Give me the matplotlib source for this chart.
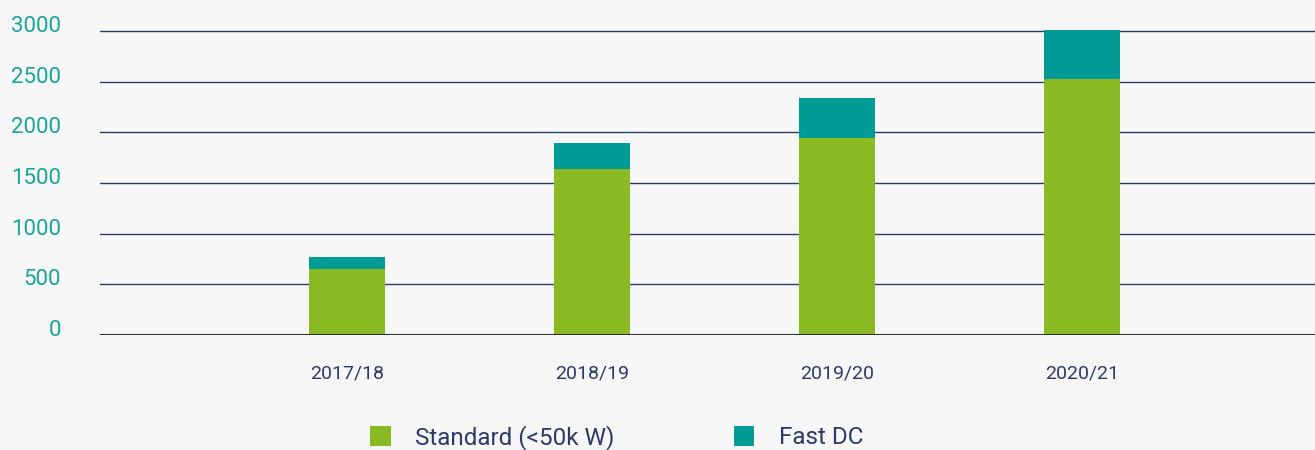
import matplotlib
matplotlib.use("Agg")
import matplotlib.pyplot as plt
import matplotlib.transforms as mtransforms
from matplotlib.patches import Patch
import numpy as np

plt.rcParams['font.family'] = ['Roboto', 'DejaVu Sans']

years = ["2017/18", "2018/19", "2019/20", "2020/21"]
standard = [655, 1635, 1940, 2530]
fast_dc = [112, 255, 395, 475]
yticks = [0, 500, 1000, 1500, 2000, 2500, 3000]

green = '#8abb25'
teal = '#009b94'
navy = '#2e3a6b'
tick_teal = '#1aa59b'
bg = '#f7f7f7'

fig = plt.figure(figsize=(13.15, 4.5), dpi=100, facecolor=bg)
ax = fig.add_axes([100/1315, 1 - 335/450, 1 - 100/1315, 304/450 * 3100/3000])
ax.set_facecolor(bg)

x = np.arange(1, len(years) + 1)
ax.bar(x, standard, width=0.31, color=green, zorder=3)
ax.bar(x, fast_dc, width=0.31, bottom=standard, color=teal, zorder=3)

ax.set_xlim(-0.01, 4.95)
ax.set_ylim(0, 3100)

ax.set_yticks(yticks)
ax.set_yticklabels([str(v) for v in yticks])
for v in yticks[1:]:
    ax.axhline(v, color=navy, lw=1.0, zorder=1)
ax.axhline(0, color='#333333', lw=1.5, zorder=4)

ax.set_xticks(x)
ax.set_xticklabels(years)
ax.tick_params(axis='x', length=0, pad=21, labelsize=14, labelcolor=navy)
ax.tick_params(axis='y', length=0, pad=28, labelsize=16, labelcolor=tick_teal)

# tick labels sit a little above their gridlines
offset = mtransforms.ScaledTranslation(0, 7/100, fig.dpi_scale_trans)
for lab in ax.get_yticklabels():
    lab.set_transform(lab.get_transform() + offset)

for s in ax.spines.values():
    s.set_visible(False)

handles = [Patch(facecolor=green, label="Standard (<50k W)"),
           Patch(facecolor=teal, label="Fast DC")]
leg = fig.legend(handles=handles, loc='center', bbox_to_anchor=(0.469, 0.028),
                 ncol=2, frameon=False, fontsize=17.5, handlelength=0.85,
                 handleheight=0.85, handletextpad=1.0, columnspacing=4.9,
                 labelcolor=navy)

fig.savefig("out.png", dpi=100, facecolor=bg)
